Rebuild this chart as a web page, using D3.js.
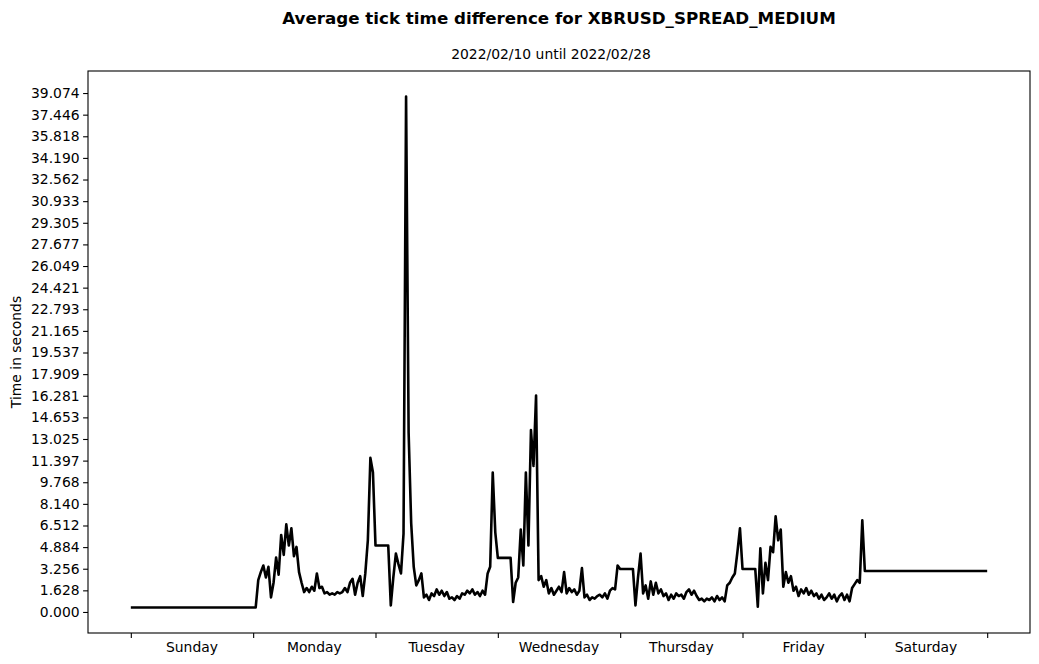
<!DOCTYPE html>
<html>
<head>
<meta charset="utf-8">
<script src="https://cdnjs.cloudflare.com/ajax/libs/d3/7.8.5/d3.min.js"></script>
<style>
  body { margin: 0; background: #fff; }
  svg { font-family: "DejaVu Sans", sans-serif; }
</style>
</head>
<body>
<div id="display"></div>
<script>
// chart text
let chartTitle = "Average tick time difference for XBRUSD_SPREAD_MEDIUM";
let chartSubtitle = "2022/02/10 until 2022/02/28";
let yLabel = "Time in seconds";
let dayNames = ["Sunday","Monday","Tuesday","Wednesday","Thursday","Friday","Saturday"];

// y tick labels as printed on the chart
let yTickLabels = ["0.000","1.628","3.256","4.884","6.512","8.140","9.768","11.397","13.025",
  "14.653","16.281","17.909","19.537","21.165","22.793","24.421","26.049","27.677","29.305",
  "30.933","32.562","34.190","35.818","37.446","39.074"];

// average tick time difference (seconds), one value per half hour of each day
let sunday = [0.34,0.34,0.34,0.34,0.34,0.34,0.34,0.34,0.34,0.34,0.34,0.34,0.34,0.34,0.34,0.34,
  0.34,0.34,0.34,0.34,0.34,0.34,0.34,0.34,0.34,0.34,0.34,0.34,0.34,0.34,0.34,0.34,
  0.34,0.34,0.34,0.34,0.34,0.34,0.34,0.34,0.34,0.34,0.34,0.34,0.34,0.34,0.34,0.34];
let monday = [0.34,0.34,2.4,3.0,3.5,2.6,3.4,1.1,2.2,4.1,2.8,5.8,4.3,6.6,5.0,6.3,
  4.2,4.9,3.0,2.2,1.5,1.8,1.5,1.9,1.6,2.9,1.8,1.9,1.4,1.5,1.3,1.4,
  1.3,1.5,1.4,1.5,1.8,1.5,2.2,2.5,1.3,2.2,2.7,1.2,2.9,5.4,11.6,10.5];
let tuesday = [5.0,5.0,5.0,5.0,5.0,5.0,0.5,2.6,4.4,3.6,2.9,5.9,38.81,13.5,6.7,3.4,
  2.0,2.4,2.9,1.1,1.3,0.9,1.4,1.2,1.7,1.3,1.6,1.2,1.5,1.0,1.1,0.9,
  1.2,1.0,1.4,1.3,1.6,1.4,1.7,1.3,1.5,1.2,1.6,1.3,2.9,3.4,10.5,6.0];
let wednesday = [4.07,4.07,4.07,4.07,4.07,4.07,0.75,2.2,2.6,6.2,3.5,10.5,5.0,13.7,11.0,16.3,
  2.4,2.7,1.9,2.4,1.4,1.8,1.3,1.6,1.9,1.5,3.0,1.4,1.8,1.5,1.7,1.3,
  1.6,3.3,1.1,1.3,0.9,1.1,1.0,1.2,1.3,1.1,1.4,1.0,1.6,1.8,1.7,3.5];
let thursday = [3.24,3.24,3.24,3.24,3.24,3.24,0.5,2.6,4.4,1.4,2.0,1.0,2.3,1.3,2.2,1.4,
  1.7,1.2,1.4,0.9,1.3,1.0,1.4,1.2,1.3,1.0,1.5,1.7,1.3,1.6,1.2,0.9,
  1.0,0.8,1.0,0.9,1.1,0.8,1.2,0.9,1.1,0.8,2.0,2.2,2.6,2.9,4.5,6.3];
let friday = [3.24,3.24,3.24,3.24,3.24,3.24,0.4,4.8,1.4,3.7,2.4,4.9,4.5,7.2,5.4,6.2,
  1.9,3.0,2.2,2.7,1.6,1.9,1.2,1.7,1.4,1.8,1.3,1.6,1.2,1.4,1.0,1.3,
  0.9,1.1,1.4,1.0,1.3,0.8,1.2,1.4,0.9,1.3,0.8,1.8,2.1,2.4,2.2,6.9];
let saturday = [3.09,3.09,3.09,3.09,3.09,3.09,3.09,3.09,3.09,3.09,3.09,3.09,3.09,3.09,3.09,3.09,
  3.09,3.09,3.09,3.09,3.09,3.09,3.09,3.09,3.09,3.09,3.09,3.09,3.09,3.09,3.09,3.09,
  3.09,3.09,3.09,3.09,3.09,3.09,3.09,3.09,3.09,3.09,3.09,3.09,3.09,3.09,3.09,3.09,3.09];

let week = [sunday, monday, tuesday, wednesday, thursday, friday, saturday];

// flatten to {hour, value} points; each sample is half an hour after the previous
let points = [];
week.forEach(function(day, d){
  day.forEach(function(v, i){
    points.push({hour: d*24 + i*0.5, value: v});
  });
});

let width = 1039, height = 664;
let margin = {left: 88, right: 9, top: 71, bottom: 31};

let svg = d3.select("#display").append("svg")
  .attr("width", width).attr("height", height);

// x axis: hours since Sunday 00:00, matplotlib style 5% padding
let xMin = 0, xMax = 168;
let xPad = (xMax - xMin)*0.05;
let x = d3.scaleLinear()
  .domain([xMin - xPad, xMax + xPad])
  .range([margin.left, width - margin.right]);

let yMin = d3.min(points, function(d){ return d.value; });
let yMax = d3.max(points, function(d){ return d.value; });
let yPad = (yMax - yMin)*0.05;
let y = d3.scaleLinear()
  .domain([yMin - yPad, yMax + yPad])
  .range([height - margin.bottom, margin.top]);

// day boundary ticks, no labels
svg.append("g")
  .attr("transform", "translate(0," + (height - margin.bottom) + ")")
  .call(d3.axisBottom(x).tickValues(d3.range(0, 169, 24)).tickSize(4.9).tickFormat(""))
  .call(function(g){ g.select(".domain").remove(); })
  .selectAll("line").attr("stroke", "#000").attr("stroke-width", 1.1);

// day names centred between ticks
svg.append("g").selectAll("text")
  .data(dayNames)
  .enter().append("text")
    .attr("x", function(d,i){ return x(i*24 + 12); })
    .attr("y", height - margin.bottom + 19)
    .attr("text-anchor", "middle")
    .attr("font-size", "13.9px")
    .attr("fill", "#000")
    .text(function(d){ return d; });

// y axis
let yTicks = yTickLabels.map(function(s){ return +s; });
let yAxis = svg.append("g")
  .attr("transform", "translate(" + margin.left + ",0)")
  .call(d3.axisLeft(y).tickValues(yTicks).tickSize(4.9).tickPadding(3.5)
    .tickFormat(function(d,i){ return yTickLabels[i]; }));
yAxis.select(".domain").remove();
yAxis.selectAll("line").attr("stroke", "#000").attr("stroke-width", 1.1);
yAxis.selectAll("text").attr("font-size", "13.9px").attr("fill", "#000")
  .attr("font-family", "DejaVu Sans, sans-serif");

// the line
let line = d3.line()
  .x(function(d){ return x(d.hour); })
  .y(function(d){ return y(d.value); });

svg.append("path")
  .datum(points)
  .attr("d", line)
  .attr("fill", "none")
  .attr("stroke", "#000")
  .attr("stroke-width", 2.6)
  .attr("stroke-linejoin", "round");

// frame around the plot
svg.append("rect")
  .attr("x", margin.left).attr("y", margin.top)
  .attr("width", width - margin.left - margin.right)
  .attr("height", height - margin.top - margin.bottom)
  .attr("fill", "none").attr("stroke", "#000").attr("stroke-width", 1.1);

// titles
svg.append("text")
  .attr("x", (margin.left + width - margin.right)/2).attr("y", 24)
  .attr("text-anchor", "middle")
  .attr("font-size", "16.7px").attr("font-weight", "bold")
  .text(chartTitle);

svg.append("text")
  .attr("x", 551).attr("y", 59)
  .attr("text-anchor", "middle")
  .attr("font-size", "13.9px")
  .text(chartSubtitle);

svg.append("text")
  .attr("transform", "translate(21," + ((margin.top + height - margin.bottom)/2) + ") rotate(-90)")
  .attr("text-anchor", "middle")
  .attr("font-size", "13.9px")
  .text(yLabel);
</script>
</body>
</html>
